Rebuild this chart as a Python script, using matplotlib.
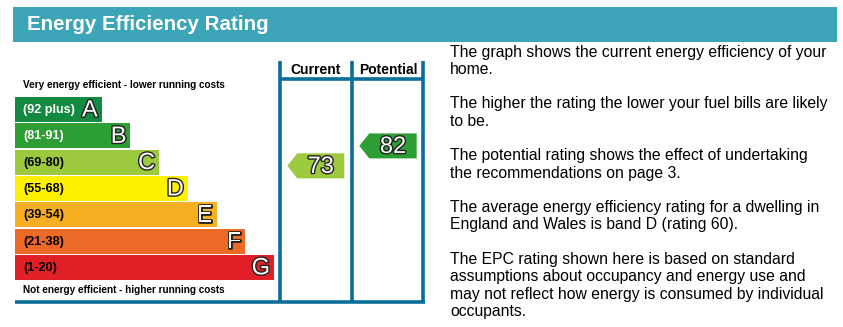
import matplotlib.pyplot as plt
from matplotlib.patches import Rectangle, Polygon
import matplotlib.patheffects as pe

plt.rcParams['font.family'] = ['Liberation Sans', 'DejaVu Sans']

# Bands of the rating scale, best first
letters = ['A', 'B', 'C', 'D', 'E', 'F', 'G']
ranges = ['(92 plus)', '(81-91)', '(69-80)', '(55-68)', '(39-54)', '(21-38)', '(1-20)']
lows = [92, 81, 69, 55, 39, 21, 1]
highs = [101, 91, 80, 68, 54, 38, 20]
colors = ['#138a42', '#2c9e34', '#9dc93e', '#fff200', '#f6ae22', '#ec6a25', '#e11f27']
label_colors = ['white', 'white', 'black', 'black', 'black', 'black', 'black']

current = 73
potential = 82

notes = [
    'The graph shows the current energy efficiency of your',
    'home.',
    '',
    'The higher the rating the lower your fuel bills are likely',
    'to be.',
    '',
    'The potential rating shows the effect of undertaking',
    'the recommendations on page 3.',
    '',
    'The average energy efficiency rating for a dwelling in',
    'England and Wales is band D (rating 60).',
    '',
    'The EPC rating shown here is based on standard',
    'assumptions about occupancy and energy use and',
    'may not reflect how energy is consumed by individual',
    'occupants.',
]

teal = '#3ca5b8'
frame = '#0a6e9a'

fig = plt.figure(figsize=(8.43, 3.27), dpi=100)
ax = fig.add_axes([0, 0, 1, 1])
ax.set_xlim(0, 843)
ax.set_ylim(327, 0)
ax.axis('off')

# title bar
ax.add_patch(Rectangle((13, 7), 824, 35, color=teal, lw=0))
ax.text(27, 25, 'Energy Efficiency Rating', color='white', fontsize=14.8,
        fontweight='bold', va='center', ha='left')

outline = [pe.withStroke(linewidth=2.0, foreground='#222222')]

# rating bands
top0, pitch, bar_h = 97, 26.3, 25
left = 15
for i, letter in enumerate(letters):
    y = top0 + i * pitch
    right = 101.7 + i * 28.7
    ax.add_patch(Rectangle((left, y), right - left, bar_h, color=colors[i], lw=0))
    ax.text(23, y + bar_h / 2 + 0.5, ranges[i], color=label_colors[i], fontsize=9.1,
            fontweight='bold', va='center', ha='left')
    ax.text(right - 4, y + bar_h / 2 + 1, letter, color='white', fontsize=17,
            va='center', ha='right', path_effects=outline)

ax.text(23, 85.5, 'Very energy efficient - lower running costs', fontsize=7.2,
        fontweight='bold', va='center', ha='left')
ax.text(23, 290, 'Not energy efficient - higher running costs', fontsize=7.2,
        fontweight='bold', va='center', ha='left')

# frame
lw = 2.6
ax.plot([15, 425], [301.7, 301.7], color=frame, lw=lw, solid_capstyle='butt')
for x in [280, 351.7, 423.3]:
    ax.plot([x, x], [61, 303.4], color=frame, lw=lw, solid_capstyle='butt')
ax.plot([280, 423.3], [79, 79], color=frame, lw=lw, solid_capstyle='butt')
ax.text(316, 69.5, 'Current', fontsize=10, fontweight='bold', ha='center', va='center')
ax.text(388, 69.5, 'Potential', fontsize=10, fontweight='bold', ha='center', va='center')


def band_of(value):
    for i in range(len(letters)):
        if lows[i] <= value <= highs[i]:
            return i
    return len(letters) - 1


def arrow(value, x_tip, x_right):
    i = band_of(value)
    frac = (value - lows[i]) / (highs[i] + 1 - lows[i])
    yc = top0 + i * pitch + bar_h - frac * pitch
    h = bar_h
    pts = [(x_tip, yc), (x_tip + 10, yc - h / 2), (x_right, yc - h / 2),
           (x_right, yc + h / 2), (x_tip + 10, yc + h / 2)]
    ax.add_patch(Polygon(pts, closed=True, color=colors[i], lw=0))
    ax.text((x_tip + 10 + x_right) / 2, yc + 1, str(value), color='white', fontsize=17,
            ha='center', va='center', path_effects=outline)


arrow(current, 287.3, 344.3)
arrow(potential, 359.3, 416.7)

# explanatory notes
for k, line in enumerate(notes):
    ax.text(450, 52 + k * 17.3, line, fontsize=11.3, ha='left', va='center')

fig.savefig('out.png', dpi=100)
